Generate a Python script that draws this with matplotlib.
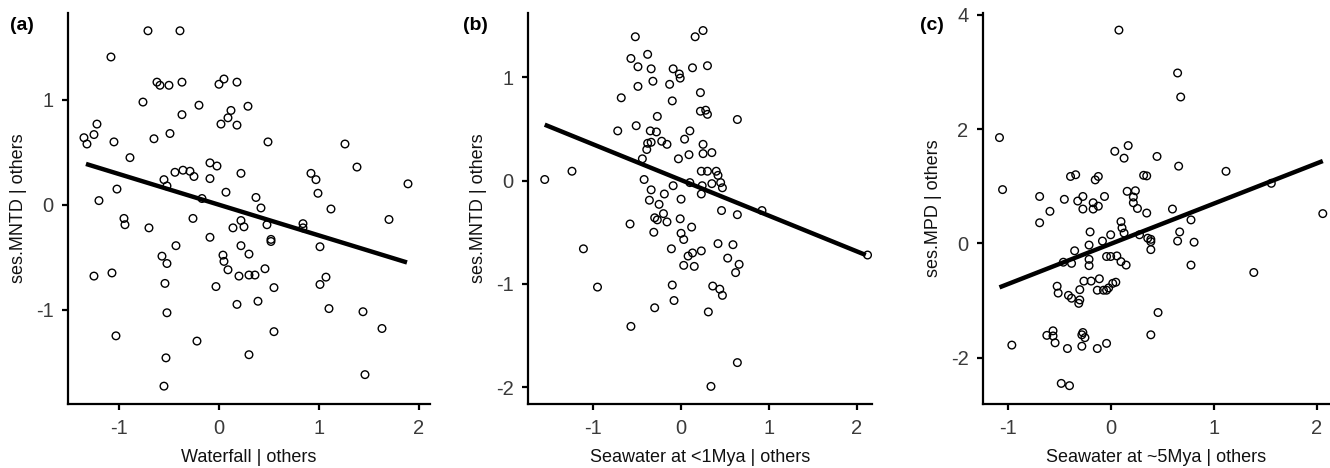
import numpy as np
import matplotlib
matplotlib.use('Agg')
import matplotlib.pyplot as plt

plt.rcParams['font.family'] = ['Liberation Sans', 'DejaVu Sans']
plt.rcParams['axes.unicode_minus'] = False

# Panel (a): Waterfall vs ses.MNTD (partial residuals)
a_x = [-0.71, -0.39, -1.08, -0.62, -0.59, -0.50, -0.37, 0.00, 0.05, 0.18,
       -0.76, -0.20, -0.37, 0.12, 0.09, 0.02, 0.18, 0.29, -1.35, -1.32,
       -1.25, -1.22, -1.05, -0.65, -0.49, -0.89, -0.09, -0.02, 0.49, 1.26,
       -0.55, -0.52, -0.44, -0.36, -0.29, -0.25, -0.09, 0.22, 0.92, 0.97,
       1.38, 1.89, 0.07, -0.17, -1.02, -1.20, 0.37, 0.42, 0.99, 1.12,
       -0.95, -0.94, -0.70, -0.26, -0.09, 0.22, 0.14, 0.25, 0.48, 0.84,
       0.84, 1.70, 0.52, -0.43, -0.57, -0.52, 0.04, 0.05, 0.09, -1.25,
       -1.07, -0.54, -0.03, -0.52, -1.03, -0.22, -0.53, -0.55, 0.22, 0.52,
       1.01, 0.30, 0.20, 0.30, 0.36, 0.46, 0.55, 1.07, 1.01, 0.18,
       0.39, 1.10, 1.44, 1.63, 0.55, 0.30, 1.46]
a_y = [1.66, 1.66, 1.41, 1.17, 1.14, 1.14, 1.17, 1.15, 1.20, 1.17,
       0.98, 0.95, 0.86, 0.90, 0.83, 0.77, 0.76, 0.94, 0.64, 0.58,
       0.67, 0.77, 0.60, 0.63, 0.68, 0.45, 0.40, 0.37, 0.60, 0.58,
       0.24, 0.18, 0.31, 0.33, 0.32, 0.27, 0.25, 0.30, 0.30, 0.24,
       0.36, 0.20, 0.12, 0.06, 0.15, 0.04, 0.07, -0.03, 0.11, -0.04,
       -0.13, -0.19, -0.22, -0.13, -0.31, -0.15, -0.22, -0.21, -0.19, -0.18,
       -0.22, -0.14, -0.33, -0.39, -0.49, -0.56, -0.48, -0.54, -0.62, -0.68,
       -0.65, -0.75, -0.78, -1.03, -1.25, -1.30, -1.46, -1.73, -0.39, -0.35,
       -0.40, -0.47, -0.68, -0.67, -0.67, -0.61, -0.79, -0.69, -0.76, -0.95,
       -0.92, -0.99, -1.02, -1.18, -1.21, -1.43, -1.62]
a_line_x = [-1.33, 1.88]
a_line_y = [0.39, -0.55]

# Panel (b): Seawater at <1Mya vs ses.MNTD
b_x = [-0.52, -0.57, -0.49, -0.38, -0.34, -0.32, -0.49, -0.68, -0.27, -0.72,
       -0.51, -0.35, -0.28, -0.38, -0.34, -0.39, -0.22, -0.16, -0.44, -1.55,
       -1.24, -0.42, -0.34, -0.36, -0.25, -0.19, -0.20, -0.30, -0.27, -0.16,
       -0.58, -0.31, 0.16, 0.25, -0.09, -0.02, -0.01, -0.13, 0.13, 0.30,
       0.22, -0.10, 0.22, 0.28, 0.30, 0.64, 0.10, 0.04, 0.25, 0.25,
       0.35, 0.09, -0.03, 0.23, 0.30, 0.40, 0.42, 0.10, -0.09, 0.24,
       0.35, 0.45, 0.47, 0.23, 0.00, -0.01, 0.12, 0.46, 0.64, 0.92,
       0.00, 0.03, -1.11, -0.95, -0.30, -0.57, -0.11, 0.08, 0.13, 0.23,
       0.03, 0.15, 0.42, 0.59, 0.53, 0.66, 0.62, -0.10, -0.08, 0.36,
       0.44, 0.47, 0.31, 0.64, 0.34, 2.12]
b_y = [1.39, 1.18, 1.10, 1.22, 1.08, 0.96, 0.91, 0.80, 0.62, 0.48,
       0.53, 0.48, 0.47, 0.36, 0.37, 0.30, 0.38, 0.35, 0.21, 0.01,
       0.09, 0.01, -0.09, -0.19, -0.23, -0.13, -0.32, -0.36, -0.38, -0.40,
       -0.42, -0.50, 1.39, 1.45, 1.08, 1.03, 0.99, 0.93, 1.09, 1.11,
       0.85, 0.77, 0.67, 0.68, 0.64, 0.59, 0.48, 0.40, 0.35, 0.26,
       0.27, 0.25, 0.21, 0.09, 0.09, 0.09, 0.05, -0.02, -0.05, -0.05,
       -0.03, -0.02, -0.07, -0.13, -0.18, -0.37, -0.45, -0.29, -0.33, -0.29,
       -0.51, -0.57, -0.66, -1.03, -1.23, -1.41, -0.66, -0.73, -0.70, -0.68,
       -0.82, -0.83, -0.61, -0.62, -0.75, -0.81, -0.89, -1.01, -1.16, -1.02,
       -1.05, -1.11, -1.27, -1.76, -1.99, -0.72]
b_line_x = [-1.55, 2.10]
b_line_y = [0.54, -0.72]

# Panel (c): Seawater at ~5Mya vs ses.MPD
c_x = [-1.08, -1.05, -0.39, -0.34, -0.15, -0.12, -0.69, -0.59, -0.69, -0.45,
       -0.32, -0.27, -0.27, -0.17, -0.12, -0.17, -0.06, -0.20, 0.08, 0.65,
       0.68, 0.04, 0.13, 0.17, 0.45, 0.66, 1.12, 0.32, 0.35, 0.16,
       0.24, 0.22, 0.22, 0.26, 0.35, 0.60, 1.56, 2.06, 0.78, 0.10,
       0.11, 0.13, 0.00, 0.67, 0.28, 0.36, 0.39, -0.08, -0.21, -0.35,
       -0.46, -0.38, -0.21, -0.21, -0.04, -0.26, -0.19, -0.11, -0.13, -0.07,
       -0.52, -0.51, -0.41, -0.38, -0.30, -0.30, -0.31, -0.56, -0.62, -0.54,
       -0.56, -0.27, -0.28, -0.25, -0.28, -0.42, -0.13, -0.04, -0.96, -0.48,
       -0.40, 0.39, 0.39, 0.65, 0.81, 0.78, 0.00, 0.06, 0.10, 0.15,
       -0.04, -0.02, 0.02, 0.05, 1.39, 0.46, 0.39]
c_y = [1.85, 0.94, 1.17, 1.20, 1.11, 1.17, 0.82, 0.56, 0.36, 0.77,
       0.74, 0.82, 0.60, 0.71, 0.65, 0.60, 0.82, 0.20, 3.73, 2.98,
       2.56, 1.61, 1.49, 1.71, 1.52, 1.35, 1.26, 1.19, 1.18, 0.91,
       0.92, 0.81, 0.71, 0.61, 0.53, 0.60, 1.05, 0.52, 0.41, 0.38,
       0.27, 0.18, 0.15, 0.20, 0.15, 0.09, 0.07, 0.04, -0.03, -0.13,
       -0.33, -0.35, -0.28, -0.39, -0.23, -0.66, -0.66, -0.62, -0.82, -0.82,
       -0.75, -0.87, -0.91, -0.96, -0.81, -0.99, -1.05, -1.53, -1.61, -1.74,
       -1.62, -1.56, -1.60, -1.65, -1.80, -1.84, -1.84, -1.75, -1.78, -2.45,
       -2.49, 0.03, -0.11, 0.04, 0.02, -0.38, -0.23, -0.22, -0.32, -0.38,
       -0.82, -0.78, -0.70, -0.68, -0.51, -1.21, -1.60]
c_line_x = [-1.08, 2.06]
c_line_y = [-0.77, 1.44]

panels = [
    ('(a)', a_x, a_y, a_line_x, a_line_y, 'Waterfall | others', 'ses.MNTD | others',
     [0.0511, 0.1368, 0.2722, 0.8355], (-1.51, 2.11), (-1.90, 1.83), [-1, 0, 1, 2], [-1, 0, 1]),
    ('(b)', b_x, b_y, b_line_x, b_line_y, 'Seawater at <1Mya | others', 'ses.MNTD | others',
     [0.3970, 0.1368, 0.2586, 0.8355], (-1.74, 2.17), (-2.16, 1.62), [-1, 0, 1, 2], [-2, -1, 0, 1]),
    ('(c)', c_x, c_y, c_line_x, c_line_y, 'Seawater at ~5Mya | others', 'ses.MPD | others',
     [0.7391, 0.1368, 0.2609, 0.8355], (-1.24, 2.13), (-2.81, 4.03), [-1, 0, 1, 2], [-2, 0, 2, 4]),
]

fig = plt.figure(figsize=(13.3, 4.68), dpi=100)

for tag, xs, ys, lx, ly, xlab, ylab, pos, xlim, ylim, xt, yt in panels:
    ax = fig.add_axes(pos)
    ax.scatter(xs, ys, s=30, facecolors='none', edgecolors='black', linewidths=1.0, zorder=3)
    ax.plot(lx, ly, color='black', lw=3.2, solid_capstyle='butt', zorder=2)
    ax.set_xlim(*xlim)
    ax.set_ylim(*ylim)
    ax.set_xticks(xt)
    ax.set_yticks(yt)
    ax.spines['top'].set_visible(False)
    ax.spines['right'].set_visible(False)
    for s in ['left', 'bottom']:
        ax.spines[s].set_linewidth(1.6)
    ax.tick_params(axis='both', direction='out', length=4.5, width=1.6,
                   labelsize=14.5, labelcolor='#3a3a3a', pad=6)
    ax.set_xlabel(xlab, fontsize=13, labelpad=8, color='#111111')
    ax.set_ylabel(ylab, fontsize=13, labelpad=6, color='#111111')

# panel letters
fig.text(10 / 1330, 1 - 25 / 468, '(a)', fontsize=14, fontweight='bold', va='center', ha='left')
fig.text(463 / 1330, 1 - 25 / 468, '(b)', fontsize=14, fontweight='bold', va='center', ha='left')
fig.text(920 / 1330, 1 - 25 / 468, '(c)', fontsize=14, fontweight='bold', va='center', ha='left')

fig.savefig('out.png', dpi=100)
